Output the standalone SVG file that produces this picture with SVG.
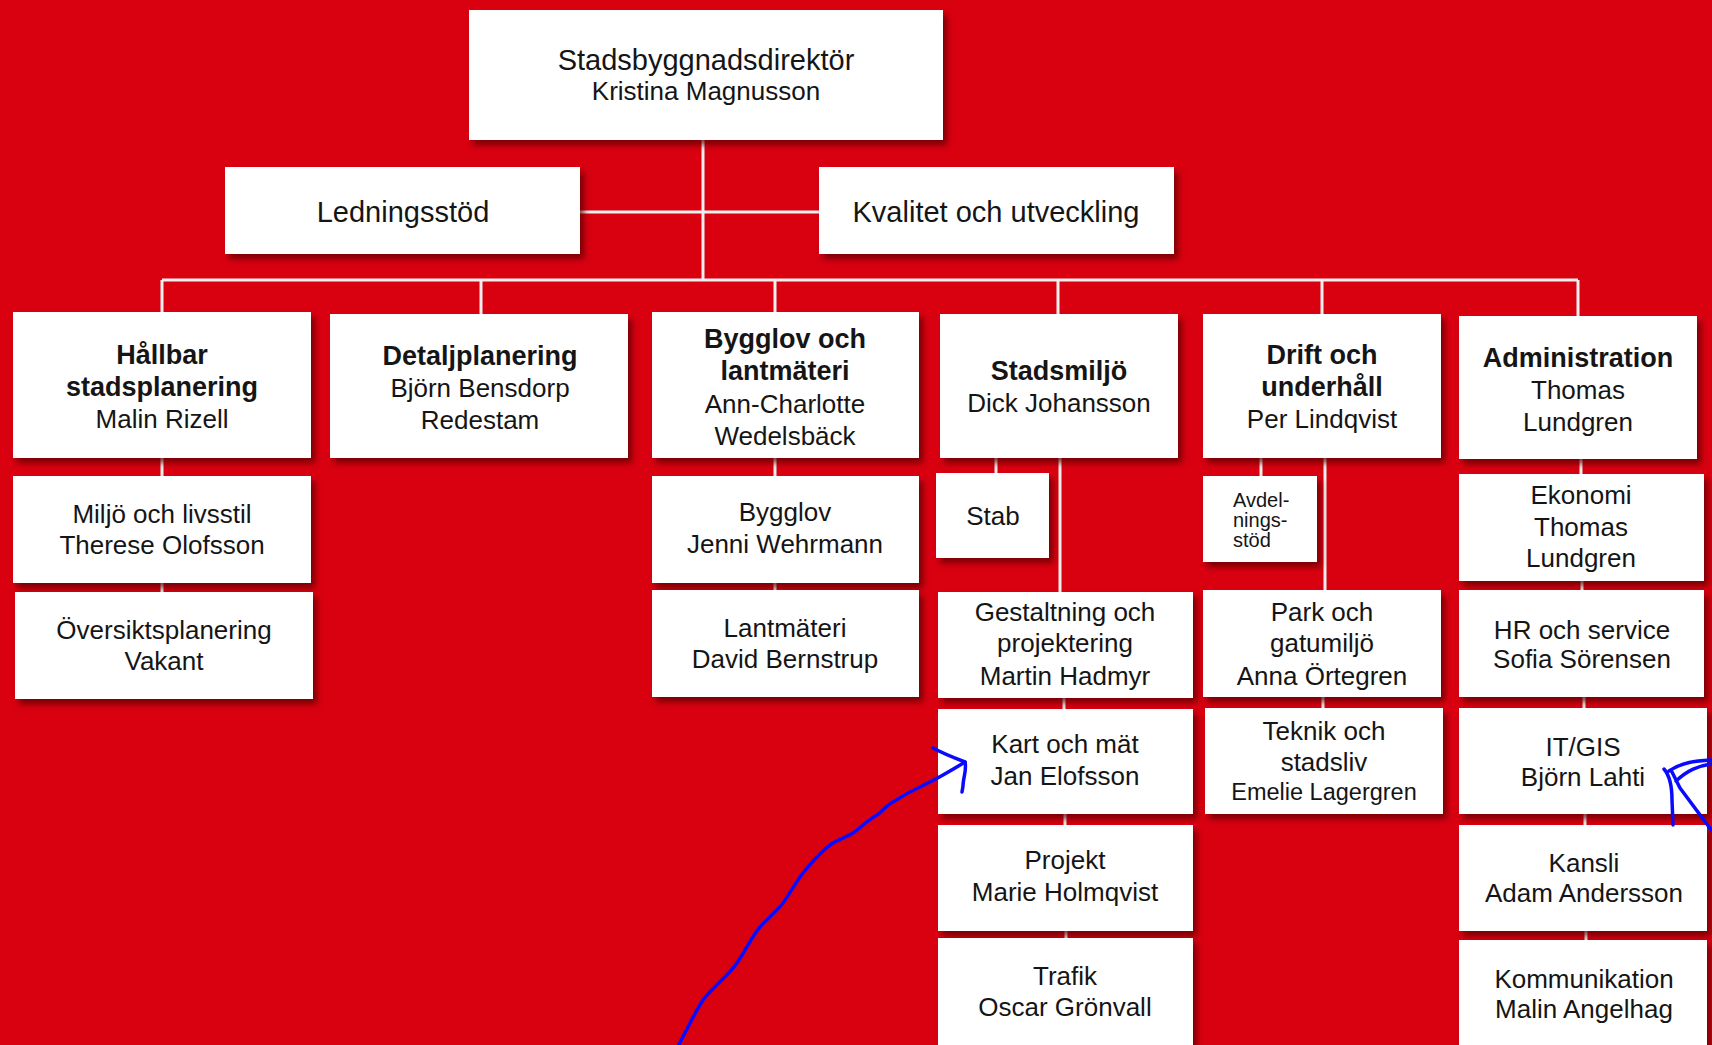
<svg xmlns="http://www.w3.org/2000/svg" width="1712" height="1045" viewBox="0 0 1712 1045">
<style>
.box{fill:#fff;filter:url(#sh)}
text{font-family:"Liberation Sans",Arial,sans-serif;fill:#151515;text-anchor:middle}
.t{font-size:26px}
.big{font-size:29px}
.b{font-size:27px;font-weight:bold}
.s{font-size:23.5px}
.a{font-size:20px;text-anchor:start}
.con{stroke:#efefef;stroke-width:3;fill:none}
.ink{stroke:#0a0aff;stroke-width:3.5;fill:none;stroke-linecap:round;stroke-linejoin:round}
</style>
<defs>
<filter id="sh" x="-10%" y="-10%" width="130%" height="140%">
<feDropShadow dx="4" dy="5" stdDeviation="3" flood-color="#5a0000" flood-opacity="0.75"/>
</filter>
</defs>
<rect width="1712" height="1045" fill="#d90010"/>

<g id="connectors">
<path class="con" d="M703,140 V280 M580,212 H819 M162,280 H1578"/>
<path class="con" d="M162,280 V312 M481,280 V314 M775,280 V312 M1058,280 V314 M1322,280 V314 M1578,280 V316"/>
<path class="con" d="M162,457 V476 M162,583 V592"/>
<path class="con" d="M775,457 V476 M775,583 V590"/>
<path class="con" d="M996,458 V473 M1060,458 V592 M1064,698 V709 M1065,814 V825 M1066,931 V938"/>
<path class="con" d="M1261,458 V476 M1325,458 V590 M1323,697 V708"/>
<path class="con" d="M1581,459 V474 M1582,581 V590 M1584,697 V708 M1585,814 V825 M1586,931 V940"/>
</g>

<g id="n-direktor"><rect class="box" x="469" y="10" width="474" height="130"/>
<text class="big" x="706" y="70">Stadsbyggnadsdirektör</text><text class="t" x="706" y="100">Kristina Magnusson</text></g>
<g id="n-ledningsstod"><rect class="box" x="225" y="167" width="355" height="87"/>
<text class="big" x="403" y="222">Ledningsstöd</text></g>
<g id="n-kvalitet"><rect class="box" x="819" y="167" width="355" height="87"/>
<text class="big" x="996" y="222">Kvalitet och utveckling</text></g>

<g id="n-hallbar"><rect class="box" x="13" y="312" width="298" height="146"/>
<text class="b" x="162" y="364">Hållbar</text><text class="b" x="162" y="396">stadsplanering</text><text class="t" x="162" y="428">Malin Rizell</text></g>
<g id="n-detalj"><rect class="box" x="330" y="314" width="298" height="144"/>
<text class="b" x="480" y="365">Detaljplanering</text><text class="t" x="480" y="397">Björn Bensdorp</text><text class="t" x="480" y="429">Redestam</text></g>
<g id="n-bygglovlant"><rect class="box" x="652" y="312" width="267" height="146"/>
<text class="b" x="785" y="348">Bygglov och</text><text class="b" x="785" y="380">lantmäteri</text><text class="t" x="785" y="413">Ann-Charlotte</text><text class="t" x="785" y="445">Wedelsbäck</text></g>
<g id="n-stadsmiljo"><rect class="box" x="940" y="314" width="238" height="144"/>
<text class="b" x="1059" y="380">Stadsmiljö</text><text class="t" x="1059" y="412">Dick Johansson</text></g>
<g id="n-drift"><rect class="box" x="1203" y="314" width="238" height="144"/>
<text class="b" x="1322" y="364">Drift och</text><text class="b" x="1322" y="396">underhåll</text><text class="t" x="1322" y="428">Per Lindqvist</text></g>
<g id="n-admin"><rect class="box" x="1459" y="316" width="238" height="143"/>
<text class="b" x="1578" y="367">Administration</text><text class="t" x="1578" y="399">Thomas</text><text class="t" x="1578" y="431">Lundgren</text></g>

<g id="n-miljo"><rect class="box" x="13" y="476" width="298" height="107"/>
<text class="t" x="162" y="523">Miljö och livsstil</text><text class="t" x="162" y="554">Therese Olofsson</text></g>
<g id="n-oversikt"><rect class="box" x="15" y="592" width="298" height="107"/>
<text class="t" x="164" y="639">Översiktsplanering</text><text class="t" x="164" y="670">Vakant</text></g>

<g id="n-bygglov"><rect class="box" x="652" y="476" width="267" height="107"/>
<text class="t" x="785" y="521">Bygglov</text><text class="t" x="785" y="553">Jenni Wehrmann</text></g>
<g id="n-lantmateri"><rect class="box" x="652" y="590" width="267" height="107"/>
<text class="t" x="785" y="637">Lantmäteri</text><text class="t" x="785" y="668">David Bernstrup</text></g>

<g id="n-stab"><rect class="box" x="936" y="473" width="113" height="85"/>
<text class="t" x="993" y="525">Stab</text></g>
<g id="n-gestaltning"><rect class="box" x="938" y="592" width="255" height="106"/>
<text class="t" x="1065" y="621">Gestaltning och</text><text class="t" x="1065" y="652">projektering</text><text class="t" x="1065" y="685">Martin Hadmyr</text></g>
<g id="n-kart"><rect class="box" x="938" y="709" width="255" height="105"/>
<text class="t" x="1065" y="753">Kart och mät</text><text class="t" x="1065" y="785">Jan Elofsson</text></g>
<g id="n-projekt"><rect class="box" x="938" y="825" width="255" height="106"/>
<text class="t" x="1065" y="869">Projekt</text><text class="t" x="1065" y="901">Marie Holmqvist</text></g>
<g id="n-trafik"><rect class="box" x="938" y="938" width="255" height="120"/>
<text class="t" x="1065" y="985">Trafik</text><text class="t" x="1065" y="1016">Oscar Grönvall</text></g>

<g id="n-avdelningsstod"><rect class="box" x="1203" y="476" width="114" height="86"/>
<text class="a" x="1233" y="507">Avdel-</text><text class="a" x="1233" y="527">nings-</text><text class="a" x="1233" y="547">stöd</text></g>
<g id="n-park"><rect class="box" x="1203" y="590" width="238" height="107"/>
<text class="t" x="1322" y="621">Park och</text><text class="t" x="1322" y="652">gatumiljö</text><text class="t" x="1322" y="685">Anna Örtegren</text></g>
<g id="n-teknik"><rect class="box" x="1205" y="708" width="238" height="106"/>
<text class="t" x="1324" y="740">Teknik och</text><text class="t" x="1324" y="771">stadsliv</text><text class="s" x="1324" y="800">Emelie Lagergren</text></g>

<g id="n-ekonomi"><rect class="box" x="1459" y="474" width="245" height="107"/>
<text class="t" x="1581" y="504">Ekonomi</text><text class="t" x="1581" y="536">Thomas</text><text class="t" x="1581" y="567">Lundgren</text></g>
<g id="n-hr"><rect class="box" x="1459" y="590" width="245" height="107"/>
<text class="t" x="1582" y="639">HR och service</text><text class="t" x="1582" y="668">Sofia Sörensen</text></g>
<g id="n-itgis"><rect class="box" x="1459" y="708" width="248" height="106"/>
<text class="t" x="1583" y="756">IT/GIS</text><text class="t" x="1583" y="786">Björn Lahti</text></g>
<g id="n-kansli"><rect class="box" x="1459" y="825" width="248" height="106"/>
<text class="t" x="1584" y="872">Kansli</text><text class="t" x="1584" y="902">Adam Andersson</text></g>
<g id="n-kommunikation"><rect class="box" x="1459" y="940" width="248" height="120"/>
<text class="t" x="1584" y="988">Kommunikation</text><text class="t" x="1584" y="1018">Malin Angelhag</text></g>

<g id="annotations">
<path class="ink" d="M678,1046 C688,1028 695,1012 703,1000 C715,985 728,976 737,963 C746,950 752,936 760,927 C768,918 776,912 783,903 C790,893 796,882 803,873 C812,862 822,850 833,843 C841,838 847,837 853,833 C861,827 868,820 877,815 C884,810 887,805 893,802 C902,796 911,791 920,787 C928,783 936,779 943,775 C950,771 957,767 965,762"/>
<path class="ink" d="M933,748 C942,753 952,757 965,762 C967,770 963,778 963,786 L962,792"/>
<path class="ink" stroke-width="4.5" d="M1712,831 L1680,788 L1672,772 M1664,769 C1670,776 1672,786 1672,800 L1673,825 M1669,771 C1682,762 1696,761 1711,760 M1676,781 C1688,770 1698,766 1711,764"/>
</g>
</svg>
